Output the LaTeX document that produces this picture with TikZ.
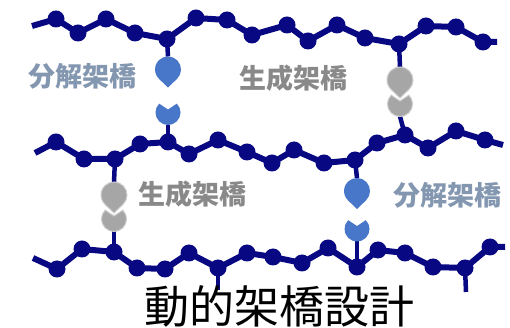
\documentclass[tikz,border=0pt]{standalone}
\usepackage{fontspec}
\newfontfamily\jp{Noto Sans CJK JP}
\definecolor{navy}{RGB}{8,8,130}
\definecolor{dropblue}{RGB}{72,118,200}
\definecolor{dropgrey}{RGB}{166,166,166}
\definecolor{rimgrey}{RGB}{205,205,205}
\definecolor{labelblue}{RGB}{132,151,176}
\definecolor{labelgrey}{RGB}{137,137,137}
\tikzset{
  chain/.style={draw=navy, line width=6pt},
  stem/.style={draw=navy, line width=4.5pt},
  bead/.style={circle, fill=navy, inner sep=0pt, minimum size=17pt},
  bluepart/.style={fill=dropblue},
  greypart/.style={fill=dropgrey, draw=rimgrey, line width=1pt},
  drop/.pic={\path[pic actions] (0,-18) -- (-46.2:13) arc[start angle=-46.2, end angle=226.2, radius=13] -- cycle;},
  cup/.pic={\path[pic actions] (0,3) -- (45:12.5) arc[start angle=45, end angle=-225, radius=12.5] -- cycle;},
  label/.style={font=\jp\bfseries\fontsize{27}{30}\selectfont, inner sep=0pt},
}
\begin{document}
\begin{tikzpicture}[x=1pt, y=1pt]
\useasboundingbox (0,0) rectangle (510,328);
\fill[white] (0,0) rectangle (510,328);

% chain ends
\coordinate (ts) at (32,302);  \coordinate (te) at (497,286);
\coordinate (ms) at (35,175);  \coordinate (me) at (503,183);
\coordinate (bs) at (33,70);   \coordinate (be) at (505,81);

% crosslink anchor points
\coordinate (blA) at (168,271.5); \coordinate (blB) at (168,203);
\coordinate (glA) at (114,146);   \coordinate (glB) at (114,96.5);
\coordinate (grA) at (400,261);   \coordinate (grB) at (400,211.5);
\coordinate (brA) at (357,150);   \coordinate (brB) at (357,86.5);
\coordinate (s1) at (218,38);     \coordinate (s2) at (466,36);

% bead positions of the three polymer chains
\foreach \n/\x/\y in {t1/56/309, t2/78/295, t3/106/309, t4/135/295, t5/167/289,
  t6/196/310, t7/227/308, t8/252/293, t9/287/303, t10/308/287, t11/337/303,
  t12/365/290, t13/399/284, t14/426/302, t15/456/301, t16/483/286,
  m1/56/186, m2/84/169, m3/115/169, m4/140/184, m5/168/186, m6/189/174,
  m7/218/188, m8/247/176, m9/272/165, m10/294/178, m11/324/165, m12/355/168,
  m13/377/185, m14/405/193, m15/428/180, m16/456/197, m17/485/188,
  b1/57/59, b2/82/79, b3/114/76, b4/137/60, b5/165/59, b6/189/75, b7/218/60,
  b8/247/75, b9/273/71, b10/302/65, b11/328/80, b12/357/61, b13/378/78,
  b14/405/75, b15/433/61, b16/465/60, b17/490/81}
  \coordinate (\n) at (\x,\y);

% side groups
\draw[stem] (t5) -- (blA);  \draw[stem] (blB) -- (m5);
\draw[stem] (m3) -- (glA);  \draw[stem] (glB) -- (b3);
\draw[stem] (t13) -- (grA); \draw[stem] (grB) -- (m14);
\draw[stem] (m12) -- (brA); \draw[stem] (brB) -- (b12);
\draw[stem] (b7) -- (s1);   \draw[stem] (b16) -- (s2);

% backbones
\draw[chain, line join=round] (ts) \foreach \n in {t1,t2,t3,t4,t5,t6,t7,t8,t9,t10,t11,t12,t13,t14,t15,t16} { -- (\n) } -- (te);
\draw[chain, line join=round] (ms) \foreach \n in {m1,m2,m3,m4,m5,m6,m7,m8,m9,m10,m11,m12,m13,m14,m15,m16,m17} { -- (\n) } -- (me);
\draw[chain, line join=round] (bs) \foreach \n in {b1,b2,b3,b4,b5,b6,b7,b8,b9,b10,b11,b12,b13,b14,b15,b16,b17} { -- (\n) } -- (be);

\foreach \n in {t1,t2,t3,t4,t5,t6,t7,t8,t9,t10,t11,t12,t13,t14,t15,t16,
  m1,m2,m3,m4,m5,m6,m7,m8,m9,m10,m11,m12,m13,m14,m15,m16,m17,
  b1,b2,b3,b4,b5,b6,b7,b8,b9,b10,b11,b12,b13,b14,b15,b16,b17}
  \node[bead] at (\n) {};

% reactive end groups
\pic[bluepart] at (168,258.5) {drop};
\pic[bluepart] at (168,215.5) {cup};
\pic[greypart] at (114,133) {drop};
\pic[greypart] at (114,109) {cup};
\pic[greypart] at (400,248) {drop};
\pic[greypart] at (400,224) {cup};
\pic[bluepart] at (357,137) {drop};
\pic[bluepart] at (357,99) {cup};

% labels
\node[label, text=labelblue] (lab1) at (82,252) {分解架橋};
\node[label, text=labelgrey] (lab2) at (293,250) {生成架橋};
\node[label, text=labelgrey] (lab3) at (192,134) {生成架橋};
\node[label, text=labelblue] (lab4) at (447,133) {分解架橋};
\node[font=\jp\fontsize{45}{50}\selectfont, inner sep=0pt] (title) at (279,22) {動的架橋設計};
\end{tikzpicture}
\end{document}
